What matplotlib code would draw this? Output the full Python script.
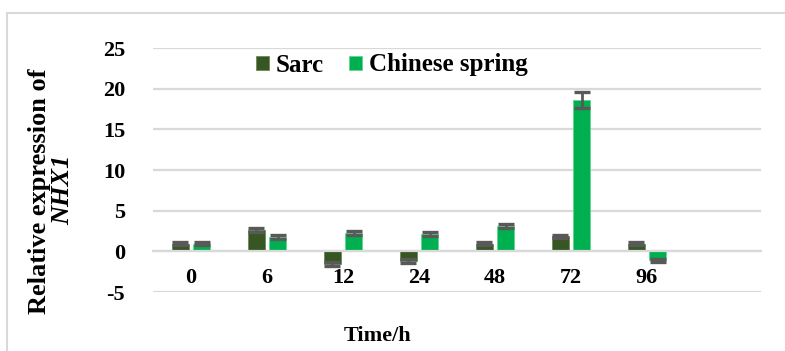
import matplotlib
matplotlib.use("Agg")
import matplotlib.pyplot as plt
import numpy as np
from matplotlib.patches import Rectangle

# Data
times = ["0", "6", "12", "24", "48", "72", "96", ""]
sarc = [0.95, 2.6, -1.6, -1.2, 0.95, 1.85, 0.95]
sarc_err = [0.2, 0.25, 0.25, 0.2, 0.2, 0.2, 0.2]
cs = [0.95, 1.8, 2.3, 2.15, 3.1, 18.6, -1.1]
cs_err = [0.2, 0.25, 0.25, 0.25, 0.25, 0.95, 0.2]
series_names = ["Sarc", "Chinese spring"]
yticks = [-5, 0, 5, 10, 15, 20, 25]

W, H = 785, 351
fig = plt.figure(figsize=(W / 100, H / 100), dpi=100)
plt.rcParams['font.family'] = ['Liberation Serif', 'DejaVu Serif']

ax = fig.add_axes([153 / W, (H - 292) / H, (761 - 153) / W, (292 - 48) / H])

# Category axis crosses the value axis at zero
ax.spines["bottom"].set_position(("data", 0))

x = np.arange(len(times))
n = len(sarc)
bw = 0.22
off = 0.14
c_sarc = "#375623"
c_cs = "#00B050"
err_c = "#595959"

ax.bar(x[:n] - off, sarc, bw, color=c_sarc, edgecolor="#6b8a55", linewidth=0.6,
       label=series_names[0], zorder=2)
ax.bar(x[:n] + off, cs, bw, color=c_cs, edgecolor="#5fd68e", linewidth=0.6,
       label=series_names[1], zorder=2)
ax.errorbar(x[:n] - off, sarc, yerr=sarc_err, fmt="none", ecolor=err_c,
            elinewidth=2, capsize=6, capthick=2.4, zorder=3)
ax.errorbar(x[:n] + off, cs, yerr=cs_err, fmt="none", ecolor=err_c,
            elinewidth=2, capsize=6, capthick=2.4, zorder=3)

ax.set_xlim(-0.5, len(times) - 0.5)
ax.set_ylim(-5, 25)
ax.set_yticks(yticks)
ax.set_yticklabels([str(v) for v in yticks], fontsize=16, fontweight="bold")
ax.yaxis.grid(True, color="#d9d9d9", linewidth=1.6, zorder=0)
ax.set_axisbelow(True)
ax.tick_params(axis="y", length=0, pad=20)

ax.set_xticks(x)
ax.set_xticklabels(times, fontsize=16, fontweight="bold")
ax.tick_params(axis="x", length=0, pad=12)
ax.spines["bottom"].set_color("#d9d9d9")
ax.spines["bottom"].set_linewidth(1.6)
for s in ["top", "right", "left"]:
    ax.spines[s].set_visible(False)

leg = ax.legend(loc="center", bbox_to_anchor=(392 / W, (H - 65) / H),
                bbox_transform=fig.transFigure, ncol=2, frameon=False,
                prop={"size": 18, "weight": "bold"}, handlelength=0.5,
                handleheight=0.5, handletextpad=0.3, columnspacing=1.0)

fig.text(40 / W, (H - 191) / H, "Relative expression of", rotation=90,
         ha="center", va="center", fontsize=19, fontweight="bold")
fig.text(63 / W, (H - 190) / H, "NHX1", rotation=90, ha="center", va="center",
         fontsize=19, fontweight="bold", style="italic")
fig.text(378 / W, (H - 336) / H, "Time/h", ha="center", va="center",
         fontsize=16, fontweight="bold")

# Chart area border
fig.patches.append(Rectangle((7 / W, -0.1), 1.2, (H - 13) / H + 0.1,
                             transform=fig.transFigure, fill=False,
                             edgecolor="#d9d9d9", linewidth=1.5))

fig.savefig("out.png", dpi=100)
